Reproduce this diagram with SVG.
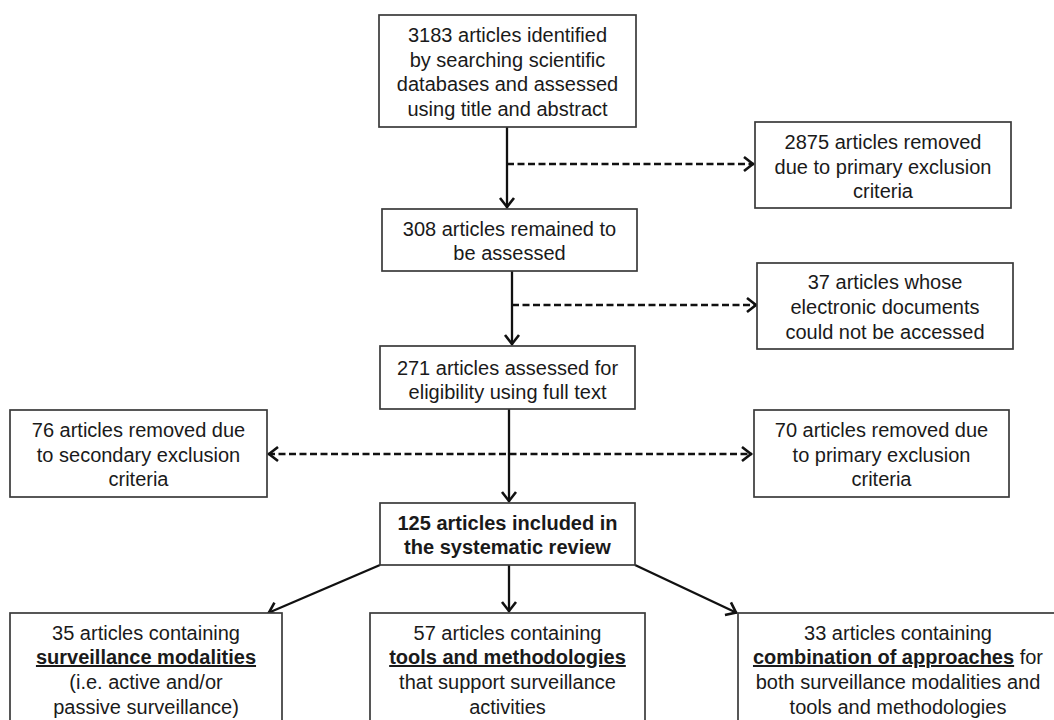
<svg xmlns="http://www.w3.org/2000/svg" width="1054" height="720" viewBox="0 0 1054 720">
<style>
.box{fill:#fff;stroke:#3a3a3a;stroke-width:1.7}
text{font-family:"Liberation Sans",Arial,sans-serif;font-size:20px;fill:#1a1a1a;text-anchor:middle}
.b{font-weight:bold}
.u{font-weight:bold;text-decoration:underline}
.ln{stroke:#111;stroke-width:2.3;fill:none}
.dash{stroke:#111;stroke-width:2.3;fill:none;stroke-dasharray:7 3.5}
</style>
<defs>
<marker id="ah" markerWidth="16" markerHeight="18" refX="12" refY="9" orient="auto-start-reverse" markerUnits="userSpaceOnUse">
<path d="M2,2 L11,9 L2,16" fill="none" stroke="#111" stroke-width="2.6"/>
</marker>
</defs>
<rect width="1054" height="720" fill="#fff"/>
<g id="connectors">
<line class="ln" x1="507" y1="127" x2="507" y2="208" marker-end="url(#ah)"/>
<line class="dash" x1="507" y1="164" x2="754" y2="164" marker-end="url(#ah)"/>
<line class="ln" x1="512" y1="271" x2="512" y2="345" marker-end="url(#ah)"/>
<line class="dash" x1="512" y1="305" x2="757" y2="305" marker-end="url(#ah)"/>
<line class="ln" x1="509" y1="409" x2="509" y2="502" marker-end="url(#ah)"/>
<line class="dash" x1="268" y1="454" x2="752" y2="454" marker-start="url(#ah)" marker-end="url(#ah)"/>
<line class="ln" x1="380" y1="565" x2="268" y2="613" marker-end="url(#ah)"/>
<line class="ln" x1="509" y1="565" x2="509" y2="612" marker-end="url(#ah)"/>
<line class="ln" x1="635" y1="565" x2="737" y2="613" marker-end="url(#ah)"/>
</g>
<g id="n3183">
<rect class="box" x="379" y="15" width="257" height="112"/>
<text x="507.5" y="42">3183 articles identified</text>
<text x="507.5" y="67">by searching scientific</text>
<text x="507.5" y="91">databases and assessed</text>
<text x="507.5" y="116">using title and abstract</text>
</g>
<g id="n2875">
<rect class="box" x="755" y="122" width="256" height="86"/>
<text x="883" y="149">2875 articles removed</text>
<text x="883" y="174">due to primary exclusion</text>
<text x="883" y="198">criteria</text>
</g>
<g id="n308">
<rect class="box" x="382" y="209" width="255" height="62"/>
<text x="509.5" y="236">308 articles remained to</text>
<text x="509.5" y="260">be assessed</text>
</g>
<g id="n37">
<rect class="box" x="757" y="263" width="256" height="86"/>
<text x="885" y="289">37 articles whose</text>
<text x="885" y="314">electronic documents</text>
<text x="885" y="339">could not be accessed</text>
</g>
<g id="n271">
<rect class="box" x="380" y="346" width="255" height="63"/>
<text x="507.5" y="375">271 articles assessed for</text>
<text x="507.5" y="399">eligibility using full text</text>
</g>
<g id="n76">
<rect class="box" x="10" y="410" width="257" height="87"/>
<text x="138.5" y="437">76 articles removed due</text>
<text x="138.5" y="462">to secondary exclusion</text>
<text x="138.5" y="486">criteria</text>
</g>
<g id="n70">
<rect class="box" x="754" y="410" width="255" height="87"/>
<text x="881.5" y="437">70 articles removed due</text>
<text x="881.5" y="462">to primary exclusion</text>
<text x="881.5" y="486">criteria</text>
</g>
<g id="n125">
<rect class="box" x="380" y="503" width="255" height="62"/>
<text class="b" x="507.5" y="530">125 articles included in</text>
<text class="b" x="507.5" y="554">the systematic review</text>
</g>
<g id="n35">
<rect class="box" x="10" y="613" width="272" height="112"/>
<text x="146" y="640">35 articles containing</text>
<text x="146" y="664"><tspan class="u">surveillance modalities</tspan></text>
<text x="146" y="689">(i.e. active and/or</text>
<text x="146" y="714">passive surveillance)</text>
</g>
<g id="n57">
<rect class="box" x="370" y="613" width="275" height="112"/>
<text x="507.5" y="640">57 articles containing</text>
<text x="507.5" y="664"><tspan class="u">tools and methodologies</tspan></text>
<text x="507.5" y="689">that support surveillance</text>
<text x="507.5" y="714">activities</text>
</g>
<g id="n33">
<rect class="box" x="738" y="613" width="324" height="112"/>
<text x="898" y="640">33 articles containing</text>
<text x="898" y="664"><tspan class="u">combination of approaches</tspan> for</text>
<text x="898" y="689">both surveillance modalities and</text>
<text x="898" y="714">tools and methodologies</text>
</g>
</svg>
